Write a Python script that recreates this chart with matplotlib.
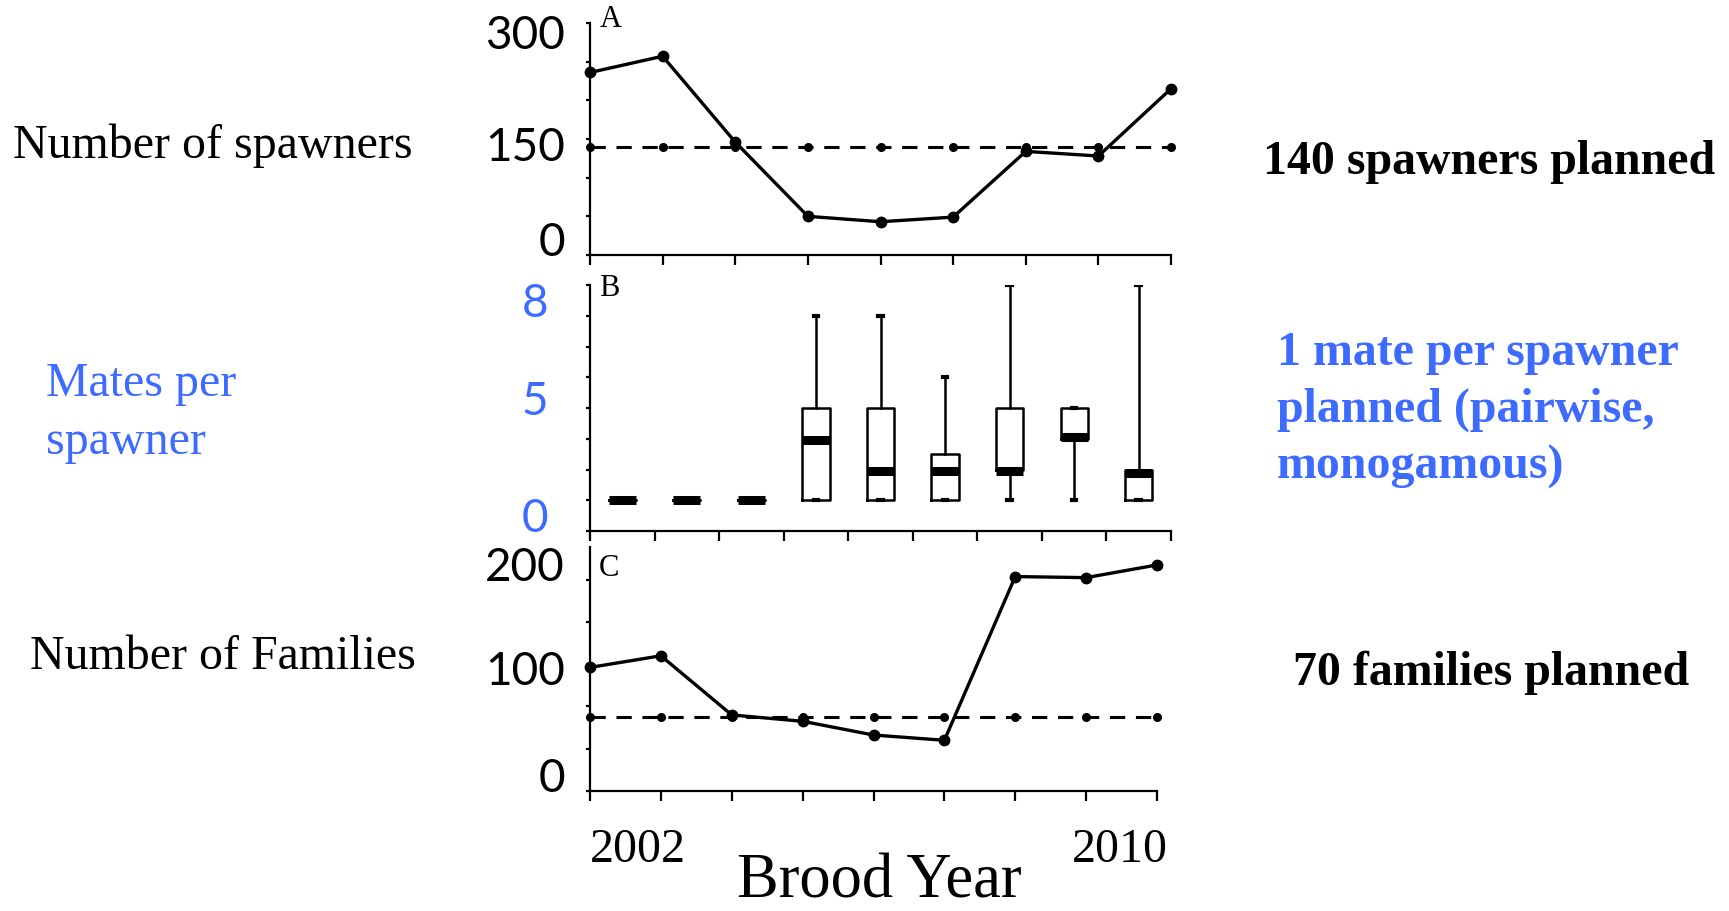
import matplotlib
matplotlib.use("Agg")
import matplotlib.pyplot as plt

# data
years = [2002, 2003, 2004, 2005, 2006, 2007, 2008, 2009, 2010]
spawners = [236, 257, 146, 50, 43, 49, 134, 128, 215]
spawners_planned = 140
families = [117, 128, 72, 66, 53, 48, 203, 202, 214]
families_planned = 70

# mates per spawner, box summaries per brood year
mates_lo = [1, 1, 1, 1, 1, 1, 1, 1, 1]
mates_q1 = [1, 1, 1, 1, 1, 1, 2, 3, 1]
mates_med = [1, 1, 1, 2.95, 1.95, 1.95, 1.95, 3.05, 1.9]
mates_q3 = [1, 1, 1, 4, 4, 2.5, 4, 4, 2]
mates_hi = [1, 1, 1, 7, 7, 5, 8, 4, 8]

BLUE = "#3d6bff"
SERIF = "Liberation Serif"
TICKFONT = "Lato"

plt.rcParams["font.family"] = SERIF

W, H = 1729, 912
fig = plt.figure(figsize=(W / 100, H / 100), dpi=100)


def px_axes(left, top, right, bottom):
    return fig.add_axes([left / W, 1 - bottom / H, (right - left) / W, (bottom - top) / H])


def style(ax, minor_y, label_pos, labels, pad, color="black"):
    for s in ("top", "right"):
        ax.spines[s].set_visible(False)
    for s in ("left", "bottom"):
        ax.spines[s].set_linewidth(1.6)
    ax.set_yticks(minor_y, minor=True)
    ax.set_yticks(label_pos, labels)
    ax.tick_params(axis="y", which="major", length=0, pad=pad, labelcolor=color)
    ax.tick_params(axis="y", which="minor", direction="out", length=3, width=1.6)
    ax.tick_params(axis="x", which="major", direction="out", length=7, width=1.6,
                   labelbottom=False)
    for t in ax.get_yticklabels():
        t.set_fontfamily(TICKFONT)
        t.set_fontsize(33)


# panel A: spawners
ax_a = px_axes(590, 24, 1171, 256)
ax_a.plot(years, spawners, color="black", lw=2.4, marker="o", ms=7.5, clip_on=False)
ax_a.plot(years, [spawners_planned] * len(years), color="black", lw=2.2,
          ls=(0, (5, 3.5)), marker="o", ms=5.5, clip_on=False)
ax_a.set_xlim(2002, 2010)
ax_a.set_ylim(0, 300)
ax_a.set_xticks(years)
style(ax_a, range(0, 301, 50), [22, 145, 290], ["0", "150", "300"], 18)
ax_a.text(0.016, 1.02, "A", transform=ax_a.transAxes, fontsize=22, va="center")

# panel B: mates per spawner
ax_b = px_axes(590, 286, 1171, 532)
stats = []
for lo, q1, med, q3, hi in zip(mates_lo, mates_q1, mates_med, mates_q3, mates_hi):
    stats.append({"whislo": lo, "q1": q1, "med": med, "q3": q3, "whishi": hi})
pos = [i + 0.5 for i in range(len(years))]
ax_b.bxp(stats, positions=pos, widths=0.42, showfliers=False, capwidths=0.07,
         boxprops=dict(color="black", lw=1.8),
         whiskerprops=dict(color="black", lw=1.8),
         capprops=dict(color="black", lw=3),
         medianprops=dict(color="black", lw=6.5, solid_capstyle="butt"))
ax_b.set_xlim(0, 9)
ax_b.set_ylim(0, 8)
ax_b.set_xticks(range(10))
style(ax_b, range(0, 9), [0.55, 4.37, 7.55], ["0", "5", "8"], 30, BLUE)
ax_b.text(0.016, 0.988, "B", transform=ax_b.transAxes, fontsize=22, va="center")

# panel C: families
ax_c = px_axes(590, 548, 1157, 792)
ax_c.plot(years, families, color="black", lw=2.4, marker="o", ms=7.5, clip_on=False)
ax_c.plot(years, [families_planned] * len(years), color="black", lw=2.2,
          ls=(0, (5, 3.5)), marker="o", ms=5.5, clip_on=False)
ax_c.set_xlim(2002, 2010)
ax_c.set_ylim(0, 231)
ax_c.set_xticks(years)
style(ax_c, range(0, 201, 40), [16, 117, 216], ["0", "100", "200"], 18)
ax_c.text(0.016, 0.918, "C", transform=ax_c.transAxes, fontsize=22, va="center")

xt = ax_c.get_xaxis_transform()
ax_c.text(years[0], -0.238, str(years[0]), transform=xt, fontsize=34.5, ha="left", va="center")
ax_c.text(years[-1] + 0.15, -0.238, str(years[-1]), transform=xt, fontsize=34.5,
          ha="right", va="center")
fig.text(879 / W, 1 - 898 / H, "Brood Year", fontsize=45, ha="center", va="baseline")

# row labels
fig.text(13 / W, 1 - 146 / H, "Number of spawners", fontsize=34.5, va="center")
fig.text(46 / W, 1 - 413 / H, "Mates per\nspawner", fontsize=34.5, va="center",
         color=BLUE, linespacing=1.42)
fig.text(30 / W, 1 - 657 / H, "Number of Families", fontsize=34.5, va="center")

fig.text(1263 / W, 1 - 162 / H, "140 spawners planned", fontsize=34.5,
         fontweight="bold", va="center")
fig.text(1277 / W, 1 - 410 / H, "1 mate per spawner\nplanned (pairwise,\nmonogamous)",
         fontsize=34.5, fontweight="bold", va="center", color=BLUE, linespacing=1.38)
fig.text(1293 / W, 1 - 673 / H, "70 families planned", fontsize=34.5,
         fontweight="bold", va="center")

fig.savefig("out.png", dpi=100)
